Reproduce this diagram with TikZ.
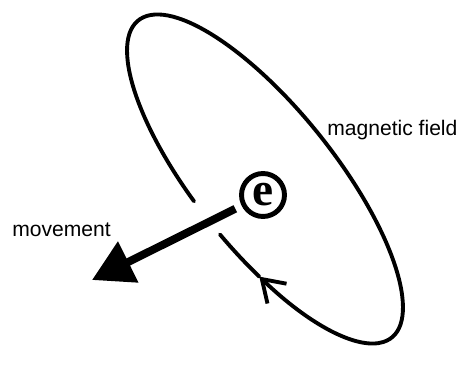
\documentclass[tikz,border=0pt]{standalone}
\usepackage{fontspec}
\setmainfont{Liberation Sans}
\newfontfamily\serifface{Liberation Serif}
\usepackage{tikz}
\usetikzlibrary{arrows.meta}

\begin{document}
\begin{tikzpicture}[x=0.02cm, y=0.02cm,
    fieldline/.style={line width=2.2pt, line cap=round},
    electron/.style={draw, circle, line width=2.8pt, minimum size=0.86cm, inner sep=0pt},
    caption/.style={font=\fontsize{12}{14}\selectfont, anchor=base west, inner sep=0pt}]
    \useasboundingbox (0,0) rectangle (460,376);
    % Field loop around the electron
    \draw[fieldline, -{Straight Barb[length=0.42cm, width=0.55cm]}, shift={(265,197)}, rotate=-51.4]
        (262.4:203 and 70) arc[start angle=262.4, end angle=-69, x radius=203, y radius=70];
    \draw[fieldline, shift={(265,197)}, rotate=-51.4]
        (-69:203 and 70) arc[start angle=-69, end angle=-85.7, x radius=203, y radius=70];
    % Electron and its movement
    \node[electron] (e) at (263,181) {\serifface\bfseries\fontsize{27}{27}\selectfont e};
    \coordinate (tip) at (92,96);
    \draw[line width=4.5pt, shorten <=0.14cm, -{Triangle[length=0.81cm, width=0.88cm]}] (e) -- (tip);
    % Labels
    \node[caption] (field) at (327,241) {magnetic field};
    \node[caption] (move) at (12,140) {movement};
\end{tikzpicture}
\end{document}
